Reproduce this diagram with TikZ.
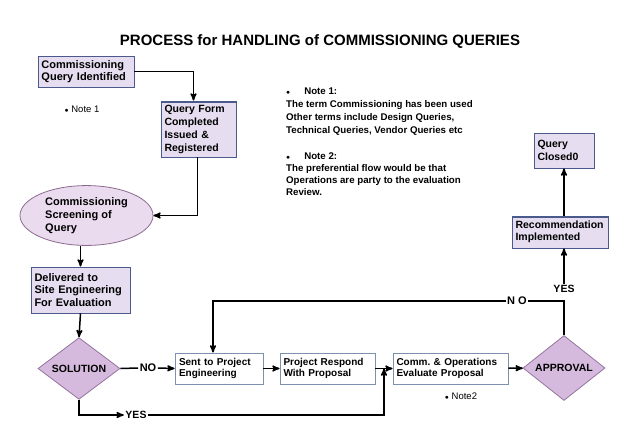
\documentclass[tikz,border=0pt]{standalone}
\usepackage{fontspec}
\setmainfont{Liberation Sans}
\usepackage{xcolor}
\usepackage{tikz}
\usetikzlibrary{shapes,arrows,positioning,calc}
\frenchspacing
\tikzset{
  font={\fontsize{10.5pt}{12.5}\selectfont\bfseries}
}
\definecolor{colorL}{RGB}{230,222,240}
\definecolor{colorD}{RGB}{74,90,140}
\definecolor{colorM}{RGB}{214,186,222}
\definecolor{colorMb}{RGB}{150,116,160}
\definecolor{colorE}{RGB}{234,220,238}
\definecolor{colorEb}{RGB}{140,106,144}
\definecolor{colorW}{RGB}{127,143,175}
\tikzstyle{line}=[draw, -stealth', line width=1.5pt]
\tikzstyle{plain}=[draw, line width=1.5pt]
\tikzstyle{block}=[rectangle,draw=colorD,line width=0.8pt,fill=colorL,align=left,inner sep=3pt]
\tikzstyle{big}=[font={\fontsize{11pt}{12.7}\selectfont\bfseries}]
\tikzstyle{wblock}=[rectangle,draw=colorW,line width=0.8pt,fill=white,align=left,minimum height=31pt,font={\fontsize{10pt}{11}\selectfont\bfseries}]
\tikzstyle{decide}=[diamond,draw=colorMb,line width=0.8pt,fill=colorM,inner sep=0pt,minimum width=82pt,minimum height=56pt]
\tikzstyle{lab}=[inner sep=1.5pt]
\tikzstyle{topline}=[draw=colorD,line width=0.8pt]
\tikzstyle{note}=[align=left,anchor=north west,font={\fontsize{9.7pt}{13}\selectfont\bfseries},inner sep=0pt]

\begin{document}
\begin{tikzpicture}[x=1pt,y=-1pt]
\useasboundingbox (0,0) rectangle (638,442);

\node[font={\fontsize{15pt}{18}\selectfont\bfseries}] (title) at (320,42) {PROCESS for HANDLING of COMMISSIONING QUERIES};

%%% top left part
\node[block,big,minimum width=96pt,minimum height=31pt,text width=89pt,font={\fontsize{11pt}{12}\selectfont\bfseries}] (q_ident) at (86,71.5) {Commissioning\\Query Identified};
\node[font={\fontsize{9.5pt}{11}\selectfont}] (note_a) at (82,109) {{\scriptsize$\bullet$} Note 1};
\node[block,minimum width=75pt,minimum height=56pt,text width=68pt,font={\fontsize{10.5pt}{13}\selectfont\bfseries}] (q_form) at (198.5,129) {Query Form\\Completed\\Issued \&\\Registered};
\draw[topline] ([yshift=-2pt]q_form.north west) -- ([yshift=-2pt]q_form.north east);
\node[ellipse,big,draw=colorEb,line width=0.8pt,fill=colorE,minimum width=133pt,minimum height=59pt,align=left] (screen) at (86.5,215.5) {Commissioning\\Screening of\\Query};
\node[block,big,minimum width=99pt,minimum height=46pt,text width=92pt] (deliv) at (80.5,290) {Delivered to\\Site Engineering\\For Evaluation};
\node[decide] (solution) at (79,368.5) {SOLUTION};

%%% bottom row
\node[lab,font={\fontsize{11pt}{12}\selectfont\bfseries}] (no_a) at (148,368) {NO};
\node[wblock,minimum width=88pt,text width=80pt] (sent) at (219,368.5) {Sent to Project\\Engineering};
\node[wblock,minimum width=95pt,text width=88pt] (respond) at (327.5,368.5) {Project Respond\\With Proposal};
\node[wblock,minimum width=115pt,text width=108pt] (evaluate) at (450.5,368.5) {Comm. \& Operations\\Evaluate Proposal};
\node[font={\fontsize{9.5pt}{11}\selectfont}] (note_b) at (461,396) {{\scriptsize$\bullet$} Note2};
\node[decide] (approval) at (564,368) {APPROVAL};
\node[lab] (yes_a) at (136,415) {YES};
\coordinate (join) at ($(respond.east)!0.5!(evaluate.west)$);

%%% right column
\node[lab,font={\fontsize{11pt}{12}\selectfont\bfseries}] (no_b) at (517,301) {N O};
\node[lab] (yes_b) at (564,289) {YES};
\node[block,minimum width=96pt,minimum height=32pt,text width=89pt] (recomm) at (560,232) {Recommendation\\Implemented};
\draw[topline] ([yshift=-2pt]recomm.north west) -- ([yshift=-2pt]recomm.north east);
\node[block,minimum width=60pt,minimum height=35pt,text width=53pt] (closed) at (564,150.5) {Query\\Closed0};

%%% notes
\node[note] (notes_a) at (286,88) {{\scriptsize$\bullet$}\hspace{14pt}Note 1:\\The term Commissioning has been used\\Other terms include Design Queries,\\Technical Queries, Vendor Queries etc};
\node[note,font={\fontsize{9.7pt}{11.7}\selectfont\bfseries}] (notes_b) at (286,153) {{\scriptsize$\bullet$}\hspace{14pt}Note 2:\\The preferential flow would be that\\Operations are party to the evaluation\\Review.};

%%% connectors
\draw[line] (q_ident.east) -| ([xshift=-5pt]q_form.north);
\draw[line] ([xshift=-1pt]q_form.south) |- (screen.east);
\draw[line] (screen.south -| deliv.north) -- (deliv.north);
\draw[line] (deliv.south) -- (solution.north);
\draw[plain] (solution.east) -- (no_a.west);
\draw[line] (no_a.east) -- (sent.west);
\draw[line] (sent) -- (respond);
\draw[line] (respond) -- (evaluate);
\draw[line] (evaluate) -- (approval);
\draw[line] (solution.south) |- (yes_a.west);
\draw[line] (yes_a.east) -| (join);
\draw[plain] (approval.north) |- (no_b.east);
\draw[line] (no_b.west) -| ([xshift=-6pt]sent.north);
\draw[line] (yes_b.north) -- (recomm.south -| yes_b);
\draw[line] (recomm.north -| closed) -- (closed.south);

\end{tikzpicture}
\end{document}
